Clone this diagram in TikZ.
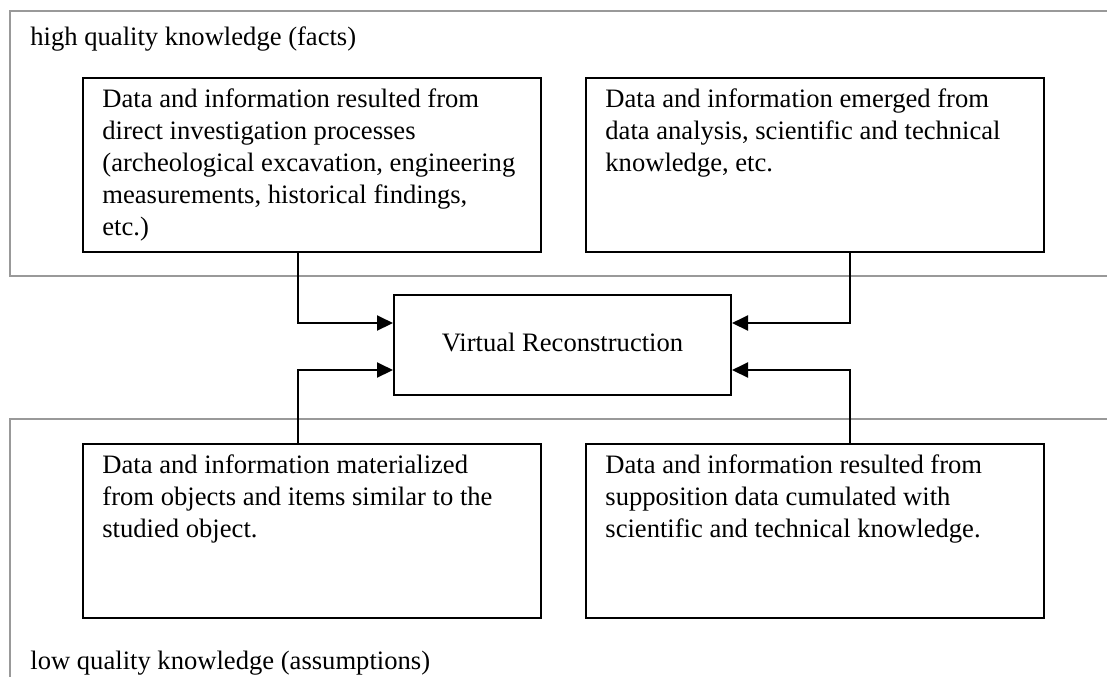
\documentclass[tikz,border=0pt]{standalone}
\usepackage{fontspec}
\setmainfont{Liberation Serif}
\usetikzlibrary{arrows.meta,positioning}

\tikzset{
  frame/.style={draw=gray!80,line width=1pt},
  source/.style={draw,line width=1pt,minimum width=229pt,minimum height=87pt,anchor=north west,inner sep=0pt},
  srctext/.style={anchor=north west,align=left,inner sep=0pt,font=\fontsize{13.3}{16}\selectfont},
  target/.style={draw,line width=1pt,minimum width=168.5pt,minimum height=50pt,font=\fontsize{13.3}{16}\selectfont},
  feed/.style={line width=1pt,-{Triangle[length=8pt,width=7.5pt]}},
}

\begin{document}
\begin{tikzpicture}[x=0.5pt,y=-0.5pt]
  \useasboundingbox (0,0) rectangle (1107,677);

  % Zones de qualite
  \draw[frame] (1107,11) -- (10,11) -- (10,276) -- (1107,276);
  \draw[frame] (1107,419) -- (10,419) -- (10,677);
  \node[srctext] (high) at (30,26) {high quality knowledge (facts)};
  \node[srctext] (low) at (30,651) {low quality knowledge (assumptions)};

  % Sources
  \node[source] (direct) at (82,77) {};
  \node[source] (analysis) at (585,77) {};
  \node[source] (similar) at (82,443) {};
  \node[source] (supposition) at (585,443) {};

  \node[srctext] at ([xshift=10pt,yshift=-5.5pt]direct.north west)
    {Data and information resulted from\\direct investigation processes\\(archeological excavation, engineering\\measurements, historical findings,\\etc.)};
  \node[srctext] at ([xshift=10pt,yshift=-5.5pt]analysis.north west)
    {Data and information emerged from\\data analysis, scientific and technical\\knowledge, etc.};
  \node[srctext] at ([xshift=10pt,yshift=-5.5pt]similar.north west)
    {Data and information materialized\\from objects and items similar to the\\studied object.};
  \node[srctext] at ([xshift=10pt,yshift=-5.5pt]supposition.north west)
    {Data and information resulted from\\supposition data cumulated with\\scientific and technical knowledge.};

  % Reconstruction
  \node[target] (vr) at (562.5,345) {\raisebox{2.5pt}{Virtual Reconstruction}};

  % Fleches
  \draw[feed] ([xshift=108pt]direct.south west) |- ([yshift=11pt]vr.west);
  \draw[feed] ([xshift=108pt]similar.north west) |- ([yshift=-12.5pt]vr.west);
  \draw[feed] ([xshift=132.5pt]analysis.south west) |- ([yshift=11pt]vr.east);
  \draw[feed] ([xshift=132.5pt]supposition.north west) |- ([yshift=-12.5pt]vr.east);
\end{tikzpicture}
\end{document}
